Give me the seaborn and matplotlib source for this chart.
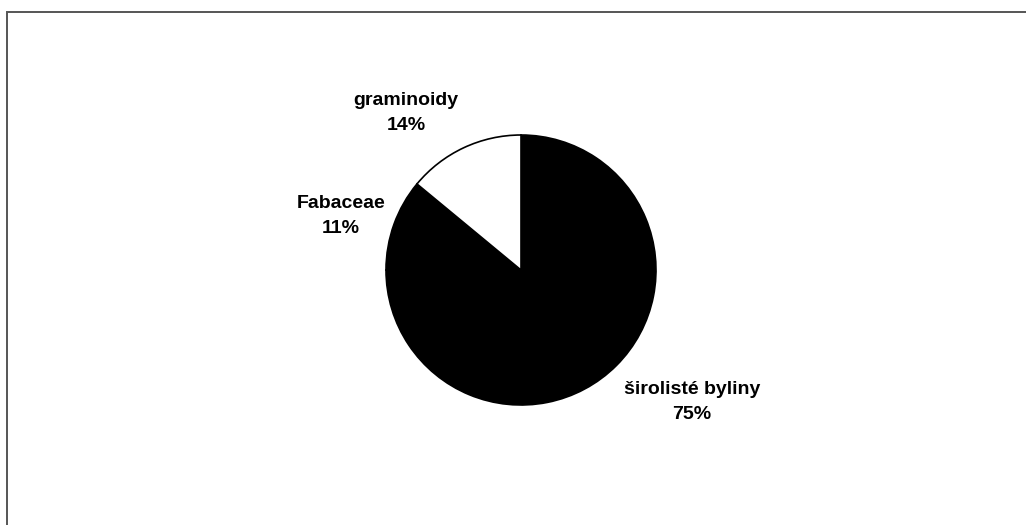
import matplotlib
matplotlib.use("Agg")
import matplotlib.pyplot as plt
from matplotlib.patches import Rectangle
import seaborn as sns

# Share of plant functional groups
categories = ["širolisté byliny", "Fabaceae", "graminoidy"]
shares = [75, 11, 14]
slice_colors = ["#000000", "#000000", "#ffffff"]

sns.set_theme(style="white")
plt.rcParams["font.family"] = ["Liberation Sans", "DejaVu Sans"]

W, H = 1026, 525
fig = plt.figure(figsize=(W / 100, H / 100), dpi=100)
fig.patch.set_facecolor("white")

# Chart frame (open at right and bottom edges of the canvas)
fig.patches.append(Rectangle((7 / W, -0.1), 1.2, 1 - 12 / H + 0.1,
                             transform=fig.transFigure, fill=False,
                             edgecolor="#555555", linewidth=1.4, zorder=0))

# Pie axes: centre (521, 270) px, radius 135 px
cx, cy, r = 521, 270, 135
ax = fig.add_axes([(cx - r) / W, (H - cy - r) / H, 2 * r / W, 2 * r / H])
ax.pie(shares, colors=slice_colors, startangle=90, counterclock=False,
       radius=1.0, wedgeprops=dict(edgecolor="black", linewidth=1.2))
ax.set_xlim(-1, 1)
ax.set_ylim(-1, 1)
ax.set_aspect("equal")
ax.axis("off")

# Label centres in pixel space
label_px = {"širolisté byliny": (692, 402),
            "Fabaceae": (341, 216),
            "graminoidy": (406, 113)}
total = sum(shares)
for name, val in zip(categories, shares):
    px, py = label_px[name]
    ax.text((px - cx) / r, (cy - py) / r, f"{name}\n{val / total * 100:.0f}%",
            ha="center", va="center", fontsize=14, fontweight="bold",
            color="black", linespacing=1.6, clip_on=False)

fig.savefig("out.png", dpi=100, facecolor="white")
